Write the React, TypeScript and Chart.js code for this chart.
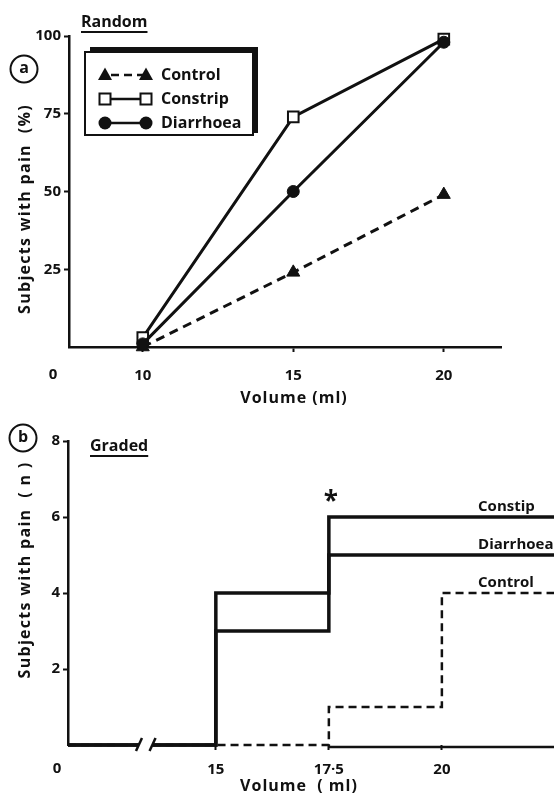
import { useEffect, useRef } from "react";
import { Chart, registerables } from "chart.js";

Chart.register(...registerables);

// ---------- Panel (a): Random ----------
const randomVolumes = [10, 15, 20];
const controlPct = [0, 24, 49];
const constripPct = [3, 74, 99];
const diarrhoeaPct = [1, 50, 98];
const randomXTicks = [10, 15, 20];
const randomYTicks = [25, 50, 75, 100];
const randomXMin = 7.55;
const randomXMax = 21.9;
const legendNames = ["Control", "Constrip", "Diarrhoea"];

// ---------- Panel (b): Graded ----------
const gradedStepVolumes = [0, 15, 17.5, 20];
const gradedConstip = [0, 4, 6, 6];
const gradedDiarrhoea = [0, 3, 5, 5];
const gradedControl = [0, 0, 1, 4];
const gradedXTicks = [15, 17.5, 20];
const gradedYTicks = [2, 4, 6, 8];
const gradedXMin = 11.73;
const gradedXMax = 22.48;
const axisBreakFrom = 13.3;
const axisBreakTo = 13.6;
const gradedLineLabels = ["Constip", "Diarrhoea", "Control"];

const FAMILY = '"Open Sans", "DejaVu Sans", sans-serif';
const INK = "#111";
const f = (size: number, weight = 700) => `${weight} ${size}px ${FAMILY}`;

function circledLetter(ctx: CanvasRenderingContext2D, x: number, y: number, r: number, t: string) {
  ctx.beginPath();
  ctx.lineWidth = 2;
  ctx.arc(x, y, r, 0, Math.PI * 2);
  ctx.stroke();
  ctx.font = f(16);
  ctx.textAlign = "center";
  ctx.textBaseline = "middle";
  ctx.fillText(t, x, y - 1);
}

function underlined(ctx: CanvasRenderingContext2D, x: number, y: number, t: string, size = 16) {
  ctx.font = f(size);
  ctx.textAlign = "left";
  ctx.textBaseline = "middle";
  ctx.fillText(t, x, y);
  const w = ctx.measureText(t).width;
  ctx.fillRect(x, y + 9, w, 2);
}

function spaced(ctx: any, px: number) {
  if ("letterSpacing" in ctx) ctx.letterSpacing = px + "px";
}

function verticalText(ctx: CanvasRenderingContext2D, x: number, y: number, t: string, size = 16) {
  ctx.save();
  ctx.translate(x, y);
  ctx.rotate(-Math.PI / 2);
  ctx.font = f(size);
  spaced(ctx, 1.3);
  ctx.textAlign = "center";
  ctx.textBaseline = "middle";
  ctx.fillText(t, 0, 0);
  ctx.restore();
}

function marker(ctx: CanvasRenderingContext2D, kind: string, x: number, y: number) {
  ctx.beginPath();
  if (kind === "triangle") {
    ctx.moveTo(x, y - 7.5);
    ctx.lineTo(x + 7, y + 5);
    ctx.lineTo(x - 7, y + 5);
    ctx.closePath();
    ctx.fill();
  } else if (kind === "rect") {
    ctx.fillStyle = "#fff";
    ctx.fillRect(x - 5.5, y - 5.5, 11, 11);
    ctx.fillStyle = INK;
    ctx.lineWidth = 2;
    ctx.strokeRect(x - 5.5, y - 5.5, 11, 11);
  } else {
    ctx.arc(x, y, 6.5, 0, Math.PI * 2);
    ctx.fill();
  }
}

const randomDecor = {
  id: "randomDecor",
  afterDraw(chart: any) {
    const { ctx } = chart;
    ctx.save();
    ctx.fillStyle = INK;
    ctx.strokeStyle = INK;
    circledLetter(ctx, 24, 69, 13.5, "a");
    underlined(ctx, 81, 22, "Random");
    verticalText(ctx, 25, 209, "Subjects with pain  (%)");
    ctx.font = f(15);
    ctx.textAlign = "center";
    ctx.textBaseline = "middle";
    ctx.fillText("0", 53, 375);
    ctx.font = f(16);
    ctx.save();
    spaced(ctx, 1);
    ctx.fillText("Volume (ml)", 294, 398);
    ctx.restore();

    // legend box with offset shadow
    ctx.lineWidth = 2;
    ctx.strokeRect(85, 52, 168, 83);
    ctx.fillRect(90, 47, 168, 5);
    ctx.fillRect(253, 47, 5, 86);
    const kinds = ["triangle", "rect", "circle"];
    const rows = [75, 99, 123];
    legendNames.forEach((name, i) => {
      const y = rows[i];
      ctx.beginPath();
      ctx.lineWidth = 2.5;
      ctx.setLineDash(i === 0 ? [8, 5] : []);
      ctx.moveTo(i === 0 ? 111 : 105, y);
      ctx.lineTo(146, y);
      ctx.stroke();
      ctx.setLineDash([]);
      marker(ctx, kinds[i], 105, y);
      marker(ctx, kinds[i], 146, y);
      ctx.font = f(16);
      ctx.textAlign = "left";
      ctx.textBaseline = "middle";
      ctx.fillText(name, 161, y);
    });
    ctx.restore();
  },
};

function stepPoints(counts: number[]) {
  const pts: { x: number; y: number | null }[] = [
    { x: gradedXMin, y: counts[0] },
    { x: axisBreakFrom, y: counts[0] },
    { x: (axisBreakFrom + axisBreakTo) / 2, y: null },
    { x: axisBreakTo, y: counts[0] },
  ];
  for (let i = 1; i < gradedStepVolumes.length; i++) {
    pts.push({ x: gradedStepVolumes[i], y: counts[i] });
  }
  pts.push({ x: gradedXMax, y: counts[counts.length - 1] });
  return pts;
}

const gradedDecor = {
  id: "gradedDecor",
  beforeDatasetsDraw(chart: any) {
    const { ctx, chartArea, scales } = chart;
    const x = scales.x;
    const y0 = scales.y.getPixelForValue(0);
    ctx.save();
    ctx.strokeStyle = INK;
    ctx.lineWidth = 2.5;
    ctx.beginPath();
    ctx.moveTo(x.getPixelForValue(gradedStepVolumes[2]), y0 + 2);
    ctx.lineTo(chartArea.right, y0 + 2);
    ctx.stroke();
    ctx.restore();
  },
  afterDraw(chart: any) {
    const { ctx, scales } = chart;
    const x = scales.x;
    const y = scales.y;
    const y0 = y.getPixelForValue(0);
    ctx.save();
    ctx.fillStyle = INK;
    ctx.strokeStyle = INK;
    // axis-break slashes
    ctx.lineWidth = 2.5;
    [axisBreakFrom, axisBreakTo].forEach((v) => {
      const px = x.getPixelForValue(v);
      ctx.beginPath();
      ctx.moveTo(px - 3, y0 + 6);
      ctx.lineTo(px + 3, y0 - 7);
      ctx.stroke();
    });
    circledLetter(ctx, 23, 28, 13.5, "b");
    underlined(ctx, 90, 36, "Graded");
    verticalText(ctx, 25, 160, "Subjects with pain  ( n )");
    ctx.font = f(15);
    ctx.textAlign = "center";
    ctx.textBaseline = "middle";
    ctx.fillText("0", 57, 359);
    ctx.font = f(16);
    ctx.save();
    spaced(ctx, 1);
    ctx.fillText("Volume  ( ml)", 299, 376);
    ctx.restore();
    // line labels
    ctx.font = f(15);
    const ends = [gradedConstip, gradedDiarrhoea, gradedControl].map((a) => a[a.length - 1]);
    const lx = x.getPixelForValue(20.8);
    ctx.textAlign = "left";
    ctx.textBaseline = "bottom";
    gradedLineLabels.forEach((name, i) => {
      ctx.fillText(name, lx, y.getPixelForValue(ends[i]) - 3);
    });
    // significance asterisk
    ctx.font = f(26);
    ctx.textAlign = "center";
    ctx.textBaseline = "middle";
    ctx.fillText("*", x.getPixelForValue(gradedStepVolumes[2]) + 2, y.getPixelForValue(gradedConstip[2]) - 14);
    ctx.restore();
  },
};

const tickFont = { family: FAMILY, size: 15, weight: "bold" };

function axisOpts(extra: any) {
  return {
    type: "linear",
    border: { display: true, color: INK, width: 2.5 },
    grid: { drawOnChartArea: false, drawTicks: true, tickLength: 5, tickWidth: 2, tickColor: INK, color: INK },
    ...extra,
  };
}

export default function App() {
  const topRef = useRef<HTMLCanvasElement>(null);
  const botRef = useRef<HTMLCanvasElement>(null);

  useEffect(() => {
    const pt = (vals: number[]) => randomVolumes.map((v, i) => ({ x: v, y: vals[i] }));
    const top = new Chart(topRef.current as HTMLCanvasElement, {
      type: "line",
      data: {
        datasets: [
          {
            label: legendNames[2],
            data: pt(diarrhoeaPct),
            borderColor: INK,
            borderWidth: 3,
            pointStyle: "circle",
            pointRadius: 6,
            pointBackgroundColor: INK,
            pointBorderColor: INK,
            pointBorderWidth: 1,
            order: 0,
            clip: false,
          },
          {
            label: legendNames[1],
            data: pt(constripPct),
            borderColor: INK,
            borderWidth: 3,
            pointStyle: "rect",
            pointRadius: 7.5,
            pointBackgroundColor: "#fff",
            pointBorderColor: INK,
            pointBorderWidth: 2,
            order: 1,
            clip: false,
          },
          {
            label: legendNames[0],
            data: pt(controlPct),
            borderColor: INK,
            borderWidth: 3,
            borderDash: [9, 6],
            pointStyle: "triangle",
            pointRadius: 7.5,
            pointBackgroundColor: INK,
            pointBorderColor: INK,
            pointBorderWidth: 1,
            order: 2,
            clip: false,
          },
        ],
      } as any,
      options: {
        responsive: false,
        animation: false,
        devicePixelRatio: 1,
        events: [],
        layout: { padding: { left: 0, top: 36, right: 55, bottom: 0 } },
        plugins: { legend: { display: false }, tooltip: { enabled: false } },
        scales: {
          x: axisOpts({
            min: randomXMin,
            max: randomXMax,
            afterBuildTicks: (s: any) => {
              s.ticks = randomXTicks.map((v) => ({ value: v }));
            },
            afterFit: (s: any) => {
              s.height = 63;
            },
            ticks: { color: INK, font: tickFont, autoSkip: false, maxRotation: 0, padding: 15 },
          }),
          y: axisOpts({
            min: 0,
            max: 100,
            afterBuildTicks: (s: any) => {
              s.ticks = randomYTicks.map((v) => ({ value: v }));
            },
            afterFit: (s: any) => {
              s.width = 69;
            },
            ticks: { color: INK, font: tickFont, autoSkip: false, padding: 3 },
          }),
        },
      } as any,
      plugins: [randomDecor],
    });

    const bottom = new Chart(botRef.current as HTMLCanvasElement, {
      type: "line",
      data: {
        datasets: [
          {
            label: gradedLineLabels[0],
            data: stepPoints(gradedConstip),
            stepped: "before",
            borderColor: INK,
            borderWidth: 3.5,
            pointRadius: 0,
            order: 0,
            clip: false,
          },
          {
            label: gradedLineLabels[1],
            data: stepPoints(gradedDiarrhoea),
            stepped: "before",
            borderColor: INK,
            borderWidth: 3.5,
            pointRadius: 0,
            order: 1,
            clip: false,
          },
          {
            label: gradedLineLabels[2],
            data: stepPoints(gradedControl),
            stepped: "before",
            borderColor: INK,
            borderWidth: 2.5,
            borderDash: [8, 5],
            pointRadius: 0,
            order: 2,
            clip: false,
          },
        ],
      } as any,
      options: {
        responsive: false,
        animation: false,
        devicePixelRatio: 1,
        events: [],
        layout: { padding: { left: 0, top: 31, right: 2, bottom: 0 } },
        plugins: { legend: { display: false }, tooltip: { enabled: false } },
        scales: {
          x: axisOpts({
            min: gradedXMin,
            max: gradedXMax,
            border: { display: false },
            afterBuildTicks: (s: any) => {
              s.ticks = gradedXTicks.map((v) => ({ value: v }));
            },
            afterFit: (s: any) => {
              s.height = 50;
            },
            ticks: {
              color: INK,
              font: tickFont,
              autoSkip: false,
              maxRotation: 0,
              padding: 11,
              callback: (v: number) => (v === 17.5 ? "17·5" : String(v)),
            },
          }),
          y: axisOpts({
            min: 0,
            max: 8,
            afterBuildTicks: (s: any) => {
              s.ticks = gradedYTicks.map((v) => ({ value: v }));
            },
            afterFit: (s: any) => {
              s.width = 68;
            },
            ticks: { color: INK, font: tickFont, autoSkip: false, padding: 3 },
          }),
        },
      } as any,
      plugins: [gradedDecor],
    });

    return () => {
      top.destroy();
      bottom.destroy();
    };
  }, []);

  return (
    <div style={{ position: "absolute", left: 0, top: 0, width: 556, height: 795, background: "#fff" }}>
      <canvas ref={topRef} width={556} height={410} style={{ position: "absolute", left: 0, top: 0, width: 556, height: 410 }} />
      <canvas ref={botRef} width={556} height={385} style={{ position: "absolute", left: 0, top: 410, width: 556, height: 385 }} />
    </div>
  );
}
